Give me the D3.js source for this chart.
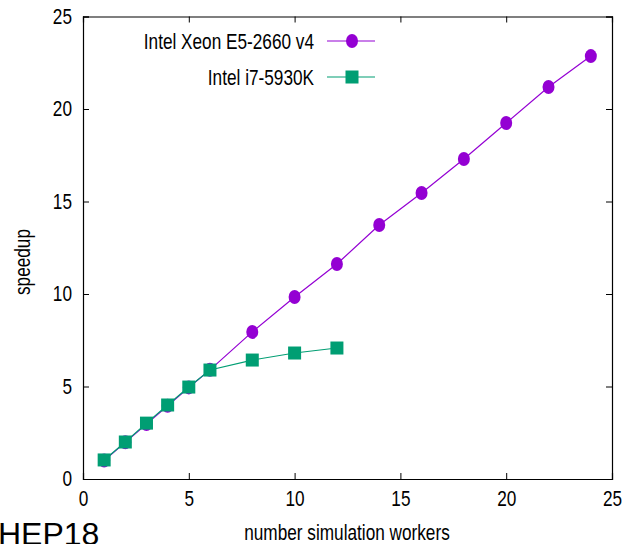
<!DOCTYPE html>
<html>
<head>
<meta charset="utf-8">
<script src="https://cdn.jsdelivr.net/npm/d3@7"></script>
<style>
  body { margin: 0; background: #fff; }
  svg text { font-family: "Liberation Sans", Arial, sans-serif; }
</style>
</head>
<body>
<svg id="chart" width="623" height="544"></svg>
<script>
// data
let xeonWorkers = [1, 2, 3, 4, 5, 6, 8, 10, 12, 14, 16, 18, 20, 22, 24];
let xeonSpeedup = [1.0, 1.98, 2.97, 3.96, 4.95, 5.9, 7.95, 9.84, 11.62, 13.73, 15.46, 17.3, 19.24, 21.19, 22.86];
let i7Workers = [1, 2, 3, 4, 5, 6, 8, 10, 12];
let i7Speedup = [1.03, 2.0, 3.02, 4.0, 4.97, 5.89, 6.43, 6.81, 7.08];
let seriesNames = ["Intel Xeon E5-2660 v4", "Intel i7-5930K"];
let xTicks = [0, 5, 10, 15, 20, 25];
let yTicks = [0, 5, 10, 15, 20, 25];

let svg = d3.select("#chart");
let plotLeft = 83, plotRight = 612, plotTop = 16.5, plotBottom = 479;
let purple = "#9400d3", green = "#009e73";
let fontSize = 21.5;
let squeeze = 0.8; // the original font is a narrow one

let xScale = d3.scaleLinear().domain([0, 25]).range([plotLeft, plotRight]);
let yScale = d3.scaleLinear().domain([0, 25]).range([plotBottom, plotTop]);

let xeon = xeonWorkers.map((w, i) => ({x: w, y: xeonSpeedup[i]}));
let i7 = i7Workers.map((w, i) => ({x: w, y: i7Speedup[i]}));

// axes, gnuplot style: ticks pointing inwards on all sides
let g = svg.append("g");
g.append("g")
    .attr("transform", "translate(0," + plotBottom + ")")
    .call(d3.axisBottom(xScale).tickValues(xTicks).tickSize(-6).tickPadding(12).tickFormat(d3.format("d")));
g.append("g")
    .attr("transform", "translate(0," + plotTop + ")")
    .call(d3.axisTop(xScale).tickValues(xTicks).tickSize(-6).tickFormat(""));
g.append("g")
    .attr("transform", "translate(" + plotLeft + ",0)")
    .call(d3.axisLeft(yScale).tickValues(yTicks).tickSize(-6).tickPadding(11).tickFormat(d3.format("d")));
g.append("g")
    .attr("transform", "translate(" + plotRight + ",0)")
    .call(d3.axisRight(yScale).tickValues(yTicks).tickSize(-6).tickFormat(""));

g.selectAll(".domain").attr("stroke", "#000").attr("stroke-width", 1.2);
g.selectAll(".tick line").attr("stroke", "#000");
g.selectAll(".tick text").attr("font-size", fontSize).attr("fill", "#000")
    .style("font-family", "'Liberation Sans', Arial, sans-serif");

// lines
let valueLine = d3.line().x(d => xScale(d.x)).y(d => yScale(d.y));

svg.append("path").datum(xeon).attr("d", valueLine)
    .attr("fill", "none").attr("stroke", purple).attr("stroke-width", 1.2);
svg.selectAll(".cir").data(xeon).enter().append("ellipse")
    .attr("class", "cir")
    .attr("cx", d => xScale(d.x)).attr("cy", d => yScale(d.y))
    .attr("rx", 6).attr("ry", 7)
    .attr("fill", purple);

svg.append("path").datum(i7).attr("d", valueLine)
    .attr("fill", "none").attr("stroke", green).attr("stroke-width", 1.2);
svg.selectAll(".sq").data(i7).enter().append("rect")
    .attr("class", "sq")
    .attr("x", d => xScale(d.x) - 6.5).attr("y", d => yScale(d.y) - 6.5)
    .attr("width", 13).attr("height", 13)
    .attr("fill", green);

// legend
let legend = svg.append("g");
let legendY = [41, 77];
legend.selectAll("text").data(seriesNames).enter().append("text")
    .attr("x", 314).attr("y", (d, i) => legendY[i] + 8)
    .attr("text-anchor", "end").attr("font-size", fontSize)
    .attr("class", "squeeze")
    .text(d => d);
legend.selectAll("line").data(seriesNames).enter().append("line")
    .attr("x1", 327).attr("x2", 375)
    .attr("y1", (d, i) => legendY[i]).attr("y2", (d, i) => legendY[i])
    .attr("stroke", (d, i) => i === 0 ? purple : green).attr("stroke-width", 1.2);
legend.append("ellipse").attr("cx", 352).attr("cy", legendY[0]).attr("rx", 6).attr("ry", 7).attr("fill", purple);
legend.append("rect").attr("x", 345.5).attr("y", legendY[1] - 6.5).attr("width", 13).attr("height", 13).attr("fill", green);

// axis titles
svg.append("text")
    .attr("transform", "translate(30,262) rotate(-90)")
    .attr("text-anchor", "middle").attr("font-size", fontSize)
    .attr("class", "squeeze")
    .text("speedup");
svg.append("text")
    .attr("x", 347).attr("y", 540)
    .attr("text-anchor", "middle").attr("font-size", fontSize)
    .attr("class", "squeeze")
    .text("number simulation workers");
svg.append("text")
    .attr("x", -2).attr("y", 545)
    .attr("font-size", 32)
    .text("HEP18");

// narrow the texts to look like the condensed original font
svg.selectAll(".tick text, text.squeeze").each(function() {
    let w = this.getComputedTextLength();
    if (w > 0) {
        d3.select(this).attr("textLength", w * squeeze).attr("lengthAdjust", "spacingAndGlyphs");
    }
});
</script>
</body>
</html>
